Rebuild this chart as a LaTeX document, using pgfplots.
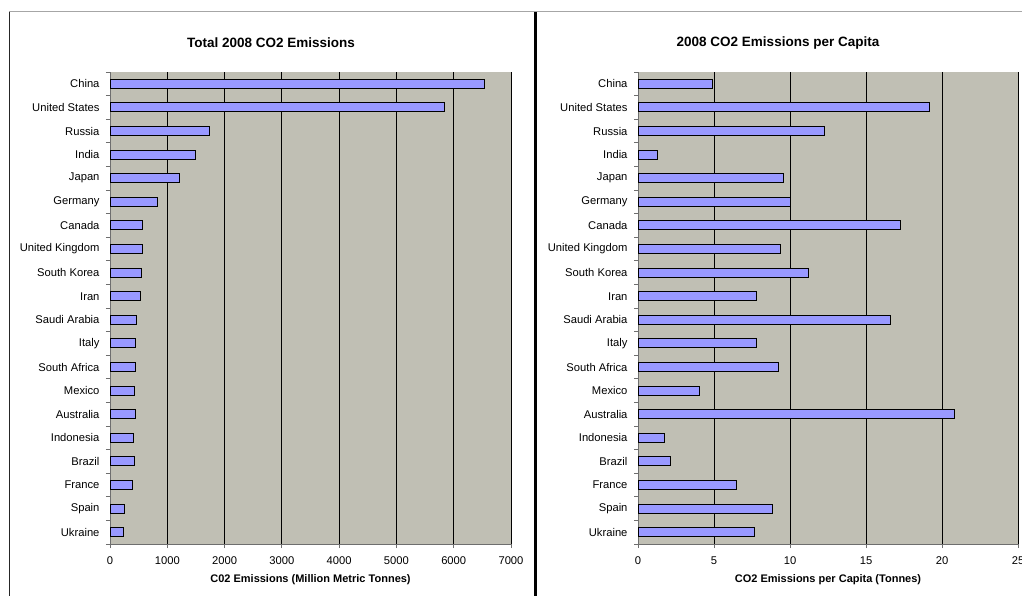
\documentclass[border=0pt]{standalone}
\usepackage{fontspec}
\setmainfont{Liberation Sans}
\usepackage{pgfplots}
\pgfplotsset{compat=1.18}
\definecolor{bgtex}{RGB}{192,191,180}
\definecolor{barblue}{RGB}{153,153,255}
\definecolor{axgray}{RGB}{110,110,110}
\pgfplotsset{
  excel/.style={
    scale only axis,
    height=472pt,
    y dir=reverse,
    ymin=-0.5, ymax=19.5,
    ytick={0,...,19},
    yticklabels={China,United States,Russia,India,Japan,Germany,Canada,United Kingdom,South Korea,Iran,Saudi Arabia,Italy,South Africa,Mexico,Australia,Indonesia,Brazil,France,Spain,Ukraine},
    minor ytick={-0.5,0.5,...,19.5},
    major y tick style={draw=none},
    minor y tick style={axgray, line width=0.8pt},
    minor tick length=4pt,
    major tick length=4pt,
    tick align=outside,
    axis x line*=bottom,
    axis y line*=left,
    axis line style={axgray, line width=0.9pt, -},
    x tick style={axgray, line width=0.8pt},
    xmajorgrids,
    grid style={black, line width=0.8pt},
    axis background/.style={fill=bgtex},
    tick label style={font=\fontsize{11.2}{13}\selectfont},
    yticklabel style={xshift=-3pt},
    xticklabel style={yshift=-5pt},
    /pgf/number format/1000 sep={},
    /pgf/number format/assume math mode=true,
    scaled x ticks=false,
    xlabel style={font=\bfseries\fontsize{11}{13}\selectfont, yshift=-3pt},
    xbar, bar width=9pt,
    clip=false,
  },
  barstyle/.style={fill=barblue, draw=black, line width=0.9pt},
}
\begin{document}
\begin{tikzpicture}[x=1pt,y=1pt]
\useasboundingbox (0,0) rectangle (1022,596);
\clip (0,0) rectangle (1022,596);
\fill[white] (0,0) rectangle (1022,596);
\coordinate (L) at (110,52);
\coordinate (R) at (638,52);
% frames
\draw[gray!70, line width=1pt] (9,584) -- (1022,584);
\draw[black!85, line width=1pt] (9,584) -- (9,0);
\draw[black, line width=2.5pt] (535.5,584) -- (535.5,0);
% titles
\node[font=\bfseries\fontsize{13.5}{15}\selectfont] at (271,553) {Total 2008 CO2 Emissions};
\node[font=\bfseries\fontsize{13.5}{15}\selectfont] at (778,553) {2008 CO2 Emissions per Capita};

\begin{axis}[excel, at={(L)}, anchor=south west, width=401pt,
  xmin=0, xmax=7000, xtick={0,1000,...,7000},
  xlabel={C02 Emissions (Million Metric Tonnes)}]
\addplot[barstyle] coordinates {
(6534,0) (5833,1) (1729,2) (1495,3) (1214,4) (829,5) (574,6) (572,7) (544,8) (538,9)
(470,10) (446,11) (451,12) (435,13) (437,14) (408,15) (423,16) (397,17) (248,18) (235,19)};
\end{axis}

\begin{axis}[excel, at={(R)}, anchor=south west, width=380pt,
  xmin=0, xmax=25, xtick={0,5,...,25},
  xlabel={CO2 Emissions per Capita (Tonnes)}]
\addplot[barstyle] coordinates {
(4.91,0) (19.18,1) (12.29,2) (1.31,3) (9.54,4) (10.06,5) (17.27,6) (9.38,7) (11.21,8) (7.76,9)
(16.60,10) (7.79,11) (9.23,12) (4.05,13) (20.82,14) (1.75,15) (2.12,16) (6.47,17) (8.87,18) (7.63,19)};
\end{axis}
\end{tikzpicture}
\end{document}
